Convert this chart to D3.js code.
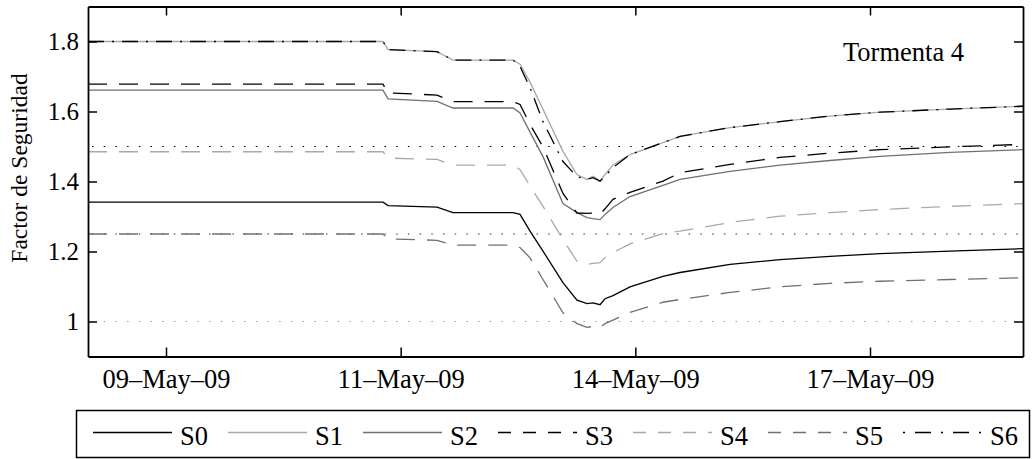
<!DOCTYPE html>
<html>
<head>
<meta charset="utf-8">
<script src="https://cdn.jsdelivr.net/npm/d3@7"></script>
<style>
  html, body { margin: 0; padding: 0; background: #fff; }
  svg { display: block; font-family: "Liberation Serif", "Times New Roman", serif; }
</style>
</head>
<body>
<svg id="grafico" width="1033" height="459"></svg>
<script>
// Tiempo (día de mayo de 2009, con fracción) común a todas las series
const diasMayo = [8.286, 11.743, 11.802, 12.376, 12.563, 13.267, 13.349, 13.466, 13.618,
  13.852, 14.016, 14.134, 14.204, 14.286, 14.345, 14.438, 14.638, 15.024, 15.224,
  15.810, 16.396, 16.981, 17.567, 18.387, 19.243];

// Factor de seguridad de cada superficie de falla
const S0 = [1.341, 1.341, 1.331, 1.327, 1.311, 1.311, 1.306, 1.258, 1.201, 1.111, 1.061, 1.051,
  1.053, 1.048, 1.065, 1.074, 1.099, 1.129, 1.140, 1.163, 1.177, 1.186, 1.194, 1.201, 1.208];
const S1 = [1.800, 1.800, 1.777, 1.771, 1.747, 1.747, 1.735, 1.684, 1.606, 1.486, 1.420, 1.406,
  1.415, 1.401, 1.420, 1.447, 1.477, 1.511, 1.529, 1.554, 1.571, 1.587, 1.598, 1.607, 1.615];
const S2 = [1.661, 1.661, 1.636, 1.629, 1.610, 1.610, 1.596, 1.541, 1.471, 1.337, 1.311, 1.297,
  1.294, 1.291, 1.306, 1.326, 1.357, 1.389, 1.406, 1.429, 1.447, 1.460, 1.472, 1.483, 1.491];
const S3 = [1.678, 1.678, 1.653, 1.647, 1.628, 1.628, 1.620, 1.563, 1.499, 1.366, 1.310, 1.309,
  1.310, 1.306, 1.322, 1.349, 1.369, 1.401, 1.425, 1.449, 1.469, 1.481, 1.491, 1.499, 1.506];
const S4 = [1.485, 1.485, 1.467, 1.463, 1.447, 1.447, 1.434, 1.387, 1.329, 1.234, 1.172, 1.163,
  1.166, 1.168, 1.183, 1.197, 1.222, 1.251, 1.258, 1.283, 1.301, 1.311, 1.320, 1.329, 1.337];
const S5 = [1.250, 1.250, 1.236, 1.232, 1.218, 1.218, 1.211, 1.182, 1.120, 1.025, 0.994, 0.983,
  0.986, 0.982, 0.994, 1.004, 1.026, 1.055, 1.063, 1.083, 1.099, 1.109, 1.115, 1.120, 1.125];
const S6 = [1.800, 1.800, 1.777, 1.771, 1.747, 1.747, 1.729, 1.668, 1.571, 1.457, 1.414, 1.406,
  1.411, 1.401, 1.415, 1.440, 1.477, 1.511, 1.529, 1.554, 1.571, 1.587, 1.598, 1.607, 1.615];

const nombresSeries = ["S0", "S1", "S2", "S3", "S4", "S5", "S6"];
const valoresSeries = [S0, S1, S2, S3, S4, S5, S6];

// Niveles de referencia (líneas punteadas)
const nivelesReferencia = [1.5, 1.25, 1.0];

// Ejes
const limitesX = [8.286, 19.243];
const limitesY = [0.9, 1.9];
const marcasX = [9.2, 11.95, 14.7, 17.45];
const etiquetasX = ["09–May–09", "11–May–09", "14–May–09", "17–May–09"];
const marcasY = [1, 1.2, 1.4, 1.6, 1.8];
const etiquetasY = ["1", "1.2", "1.4", "1.6", "1.8"];

// Estilo de trazo de cada serie
const estilos = [
  { color: "#000000", guiones: null },
  { color: "#a9a9a9", guiones: null },
  { color: "#707070", guiones: null },
  { color: "#000000", guiones: "19,12" },
  { color: "#a9a9a9", guiones: "19,12" },
  { color: "#707070", guiones: "19,12" },
  { color: "#000000", guiones: "16,8,2,8" }
];
const estilosReferencia = ["#000000", "#333333", "#9a9a9a"];

const aFecha = d => new Date(Date.UTC(2009, 4, 1) + (d - 1) * 864e5);

const svg = d3.select("#grafico");
const izq = 88, der = 1023, arriba = 6.5, abajo = 356.5;

const x = d3.scaleUtc().domain(limitesX.map(aFecha)).range([izq, der]);
const y = d3.scaleLinear().domain(limitesY).range([abajo, arriba]);

svg.append("rect").attr("width", 1033).attr("height", 459).attr("fill", "#fff");

const zona = svg.append("g");

// Líneas de referencia
zona.selectAll("line.ref").data(nivelesReferencia).join("line")
  .attr("class", "ref")
  .attr("x1", izq + 4).attr("x2", der)
  .attr("y1", d => y(d)).attr("y2", d => y(d))
  .attr("stroke", (d, i) => estilosReferencia[i])
  .attr("stroke-width", 1.2)
  .attr("stroke-dasharray", "1.5,10.2");

// Series
const linea = d3.line()
  .x((v, i) => x(aFecha(diasMayo[i])))
  .y(v => y(v));

zona.selectAll("path.serie").data(valoresSeries).join("path")
  .attr("class", "serie")
  .attr("d", linea)
  .attr("fill", "none")
  .attr("stroke", (d, i) => estilos[i].color)
  .attr("stroke-width", 1.3)
  .attr("stroke-dasharray", (d, i) => estilos[i].guiones);

// Marco y ejes
function estiloEje(g, tam) {
  g.select(".domain").attr("stroke", "#000").attr("stroke-width", 1.8);
  g.selectAll(".tick line").attr("stroke", "#000").attr("stroke-width", 1.5);
  g.selectAll(".tick text").attr("fill", "#000").attr("font-size", tam)
    .attr("font-family", "'Liberation Serif', 'Times New Roman', serif");
}

const ejeX = svg.append("g").attr("transform", `translate(0,${abajo})`)
  .call(d3.axisBottom(x).tickValues(marcasX.map(aFecha))
    .tickFormat((d, i) => etiquetasX[i])
    .tickSizeInner(-9).tickSizeOuter(0).tickPadding(13));
estiloEje(ejeX, 26.5);

const ejeXSup = svg.append("g").attr("transform", `translate(0,${arriba})`)
  .call(d3.axisTop(x).tickValues(marcasX.map(aFecha)).tickFormat("")
    .tickSizeInner(-9).tickSizeOuter(0));
estiloEje(ejeXSup, 25);

const ejeY = svg.append("g").attr("transform", `translate(${izq},0)`)
  .call(d3.axisLeft(y).tickValues(marcasY)
    .tickFormat((d, i) => etiquetasY[i])
    .tickSizeInner(-9).tickSizeOuter(0).tickPadding(9));
estiloEje(ejeY, 25);

const ejeYDer = svg.append("g").attr("transform", `translate(${der},0)`)
  .call(d3.axisRight(y).tickValues(marcasY).tickFormat("")
    .tickSizeInner(-9).tickSizeOuter(0));
estiloEje(ejeYDer, 25);

// Título del eje vertical
svg.append("text")
  .attr("transform", "translate(27,168) rotate(-90)")
  .attr("text-anchor", "middle")
  .attr("font-size", 23.5)
  .attr("fill", "#000")
  .text("Factor de Seguridad");

// Anotación
svg.append("text")
  .attr("x", 843).attr("y", 61)
  .attr("font-size", 26.5)
  .attr("fill", "#000")
  .text("Tormenta 4");

// Leyenda
const leyenda = svg.append("g");
leyenda.append("rect")
  .attr("x", 76.5).attr("y", 410.5).attr("width", 953).attr("height", 47)
  .attr("fill", "#fff").attr("stroke", "#000").attr("stroke-width", 1.5);

const paso = 135;
const item = leyenda.selectAll("g.item").data(nombresSeries).join("g")
  .attr("class", "item")
  .attr("transform", (d, i) => `translate(${93 + i * paso},0)`);

item.append("line")
  .attr("x1", 0).attr("x2", 79)
  .attr("y1", 432.5).attr("y2", 432.5)
  .attr("stroke", (d, i) => estilos[i].color)
  .attr("stroke-width", 1.3)
  .attr("stroke-dasharray", (d, i) => estilos[i].guiones ? "13,12" : null)
  .filter((d, i) => i === 6)
  .attr("stroke-dasharray", "2,10,16,10");

item.append("text")
  .attr("x", 87).attr("y", 444.5)
  .attr("font-size", 26.5)
  .attr("fill", "#000")
  .text(d => d);
</script>
</body>
</html>
